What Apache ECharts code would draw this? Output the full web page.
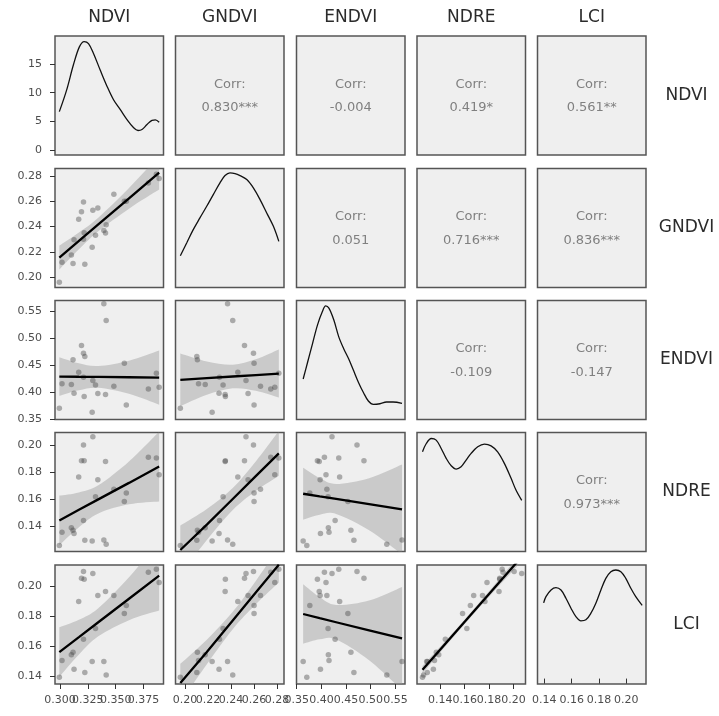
<!DOCTYPE html>
<html>
<head>
<meta charset="utf-8">
<script src="https://cdn.jsdelivr.net/npm/echarts@6/dist/echarts.min.js"></script>
<style>
  html, body { margin: 0; padding: 0; background: #ffffff; }
  #chart { width: 719px; height: 716px; }
</style>
</head>
<body>
<div id="chart"></div>
<script>
// Vegetation indices measured on 24 plots
const variables = ['NDVI', 'GNDVI', 'ENDVI', 'NDRE', 'LCI'];

const ndvi  = [0.2994, 0.3018, 0.3102, 0.3117, 0.3126, 0.3168, 0.3193, 0.3211, 0.3217, 0.3223, 0.3211, 0.3289,
               0.3295, 0.3319, 0.3340, 0.3394, 0.3415, 0.3409, 0.3484, 0.3578, 0.3596, 0.3794, 0.3866, 0.3891];
const gndvi = [0.1960, 0.2118, 0.2176, 0.2108, 0.2296, 0.2459, 0.2517, 0.2595, 0.2351, 0.2103, 0.2300, 0.2236,
               0.2530, 0.2331, 0.2548, 0.2370, 0.2415, 0.2349, 0.2656, 0.2600, 0.2600, 0.2745, 0.2815, 0.2780];
const endvi = [0.3704, 0.4154, 0.4141, 0.4598, 0.3981, 0.4370, 0.4863, 0.4722, 0.3919, 0.4659, 0.4278, 0.3630,
               0.4215, 0.4135, 0.3974, 0.5635, 0.5326, 0.3956, 0.4111, 0.4537, 0.3765, 0.4061, 0.4352, 0.4093];
const ndre  = [0.1255, 0.1353, 0.1388, 0.1368, 0.1344, 0.1766, 0.1887, 0.2005, 0.1887, 0.1294, 0.1442, 0.1289,
               0.2067, 0.1618, 0.1746, 0.1296, 0.1264, 0.1881, 0.1674, 0.1583, 0.1647, 0.1914, 0.1907, 0.1783];
const lci   = [0.1395, 0.1507, 0.1545, 0.1562, 0.1449, 0.1900, 0.2056, 0.2100, 0.2049, 0.1427, 0.1649, 0.1500,
               0.2087, 0.1720, 0.1940, 0.1500, 0.1410, 0.1967, 0.1940, 0.1820, 0.1873, 0.2096, 0.2116, 0.2027];

// Pearson correlations shown in the upper triangle: [row, col, text]
const correlations = [
  [0, 1, '0.830***'], [0, 2, '-0.004'], [0, 3, '0.419*'], [0, 4, '0.561**'],
  [1, 2, '0.051'], [1, 3, '0.716***'], [1, 4, '0.836***'],
  [2, 3, '-0.109'], [2, 4, '-0.147'],
  [3, 4, '0.973***']
];

// Kernel density estimates (diagonal)
const densNdviX  = [0.2994, 0.3060, 0.3120, 0.3174, 0.3217, 0.3256, 0.3301, 0.3361, 0.3421, 0.3481, 0.3542, 0.3602, 0.3662, 0.3701, 0.3737, 0.3782, 0.3827, 0.3857, 0.3891];
const densNdviY  = [6.70, 10.50, 14.83, 18.00, 18.93, 18.58, 16.85, 13.96, 11.19, 8.77, 7.04, 5.31, 3.88, 3.41, 3.58, 4.45, 5.19, 5.26, 4.84];
const densGndviX = [0.1960, 0.2015, 0.2072, 0.2130, 0.2189, 0.2246, 0.2304, 0.2348, 0.2391, 0.2435, 0.2478, 0.2537, 0.2594, 0.2652, 0.2710, 0.2768, 0.2815];
const densGndviY = [4.02, 5.96, 8.00, 9.79, 11.56, 13.35, 15.14, 16.25, 16.67, 16.56, 16.25, 15.64, 14.37, 12.58, 10.55, 8.50, 6.21];
const densEndviX = [0.3630, 0.3720, 0.3820, 0.3920, 0.4020, 0.4086, 0.4152, 0.4252, 0.4352, 0.4452, 0.4552, 0.4652, 0.4752, 0.4852, 0.4952, 0.5052, 0.5186, 0.5320, 0.5452, 0.5635];
const densEndviY = [3.57, 5.27, 7.17, 9.05, 10.42, 11.00, 10.77, 9.56, 7.85, 6.65, 5.62, 4.42, 3.22, 2.19, 1.33, 0.99, 1.05, 1.23, 1.23, 1.10];
const densNdreX  = [0.1255, 0.1286, 0.1327, 0.1367, 0.1408, 0.1449, 0.1490, 0.1531, 0.1571, 0.1612, 0.1653, 0.1707, 0.1762, 0.1816, 0.1870, 0.1925, 0.1980, 0.2020, 0.2067];
const densNdreY  = [11.33, 12.33, 12.93, 12.73, 11.73, 10.54, 9.65, 9.25, 9.53, 10.33, 11.14, 11.93, 12.25, 12.05, 11.33, 9.94, 8.14, 6.74, 5.50];
const densLciX   = [0.1395, 0.1412, 0.1449, 0.1485, 0.1522, 0.1558, 0.1595, 0.1631, 0.1668, 0.1704, 0.1741, 0.1777, 0.1814, 0.1850, 0.1887, 0.1923, 0.1960, 0.1996, 0.2033, 0.2069, 0.2116];
const densLciY   = [9.10, 9.85, 10.65, 10.93, 10.65, 9.66, 8.46, 7.45, 6.94, 7.06, 7.86, 9.06, 10.65, 12.05, 12.85, 13.05, 12.85, 12.05, 10.86, 9.85, 8.80];

// Linear fits with 95% confidence band (lower triangle)
const fitXNdvi  = [0.2994, 0.3170, 0.3344, 0.3620, 0.3891];
const fitXGndvi = [0.1960, 0.2190, 0.2415, 0.2615, 0.2815];
const fitXEndvi = [0.3630, 0.3965, 0.4299, 0.4967, 0.5635];
const fitXNdre  = [0.1255, 0.1433, 0.1611, 0.1839, 0.2067];

const fitGndviOnNdvi = { fit: [0.2155, 0.2287, 0.2417, 0.2624, 0.2827], lo: [0.2060, 0.2220, 0.2363, 0.2542, 0.2693], hi: [0.2250, 0.2354, 0.2471, 0.2706, 0.2961] };
const fitEndviOnNdvi = { fit: [0.4289, 0.4285, 0.4282, 0.4276, 0.4270], lo: [0.3932, 0.4036, 0.4080, 0.3969, 0.3768], hi: [0.4646, 0.4534, 0.4484, 0.4583, 0.4772] };
const fitNdreOnNdvi  = { fit: [0.1442, 0.1521, 0.1599, 0.1722, 0.1844], lo: [0.1257, 0.1391, 0.1494, 0.1562, 0.1583], hi: [0.1627, 0.1651, 0.1704, 0.1882, 0.2105] };
const fitLciOnNdvi   = { fit: [0.1563, 0.1663, 0.1762, 0.1919, 0.2073], lo: [0.1397, 0.1547, 0.1668, 0.1776, 0.1840], hi: [0.1729, 0.1779, 0.1856, 0.2062, 0.2306] };
const fitEndviOnGndvi = { fit: [0.4228, 0.4259, 0.4290, 0.4317, 0.4344], lo: [0.3742, 0.3951, 0.4072, 0.4026, 0.3900], hi: [0.4714, 0.4567, 0.4508, 0.4608, 0.4788] };
const fitNdreOnGndvi  = { fit: [0.1221, 0.1411, 0.1602, 0.1772, 0.1942], lo: [0.1038, 0.1295, 0.1520, 0.1662, 0.1775], hi: [0.1404, 0.1527, 0.1684, 0.1882, 0.2109] };
const fitLciOnGndvi   = { fit: [0.1356, 0.1564, 0.1774, 0.1960, 0.2145], lo: [0.1227, 0.1482, 0.1716, 0.1882, 0.2027], hi: [0.1485, 0.1646, 0.1832, 0.2038, 0.2263] };
const fitNdreOnEndvi  = { fit: [0.1641, 0.1621, 0.1602, 0.1563, 0.1524], lo: [0.1447, 0.1484, 0.1490, 0.1369, 0.1189], hi: [0.1835, 0.1758, 0.1714, 0.1757, 0.1859] };
const fitLciOnEndvi   = { fit: [0.1817, 0.1789, 0.1762, 0.1708, 0.1654], lo: [0.1618, 0.1648, 0.1647, 0.1509, 0.1310], hi: [0.2016, 0.1930, 0.1877, 0.1907, 0.1998] };
const fitLciOnNdre    = { fit: [0.1445, 0.1610, 0.1775, 0.1987, 0.2199], lo: [0.1420, 0.1592, 0.1760, 0.1967, 0.2169], hi: [0.1470, 0.1628, 0.1790, 0.2007, 0.2229] };

// Tick positions and labels
const ticksNdvi  = [0.300, 0.325, 0.350, 0.375];
const labelsNdvi = ['0.300', '0.325', '0.350', '0.375'];
const ticksGndvi  = [0.20, 0.22, 0.24, 0.26, 0.28];
const labelsGndvi = ['0.20', '0.22', '0.24', '0.26', '0.28'];
const ticksEndvi  = [0.35, 0.40, 0.45, 0.50, 0.55];
const labelsEndvi = ['0.35', '0.40', '0.45', '0.50', '0.55'];
const ticksNdre  = [0.14, 0.16, 0.18, 0.20];
const labelsNdre = ['0.14', '0.16', '0.18', '0.20'];
const ticksLci  = [0.14, 0.16, 0.18, 0.20];
const labelsLci = ['0.14', '0.16', '0.18', '0.20'];
const ticksDensity  = [0, 5, 10, 15];
const labelsDensity = ['0', '5', '10', '15'];

// ---- assembly ----
const columns = [ndvi, gndvi, endvi, ndre, lci];
const densities = [[densNdviX, densNdviY], [densGndviX, densGndviY], [densEndviX, densEndviY], [densNdreX, densNdreY], [densLciX, densLciY]];
const tickSets = [[ticksNdvi, labelsNdvi], [ticksGndvi, labelsGndvi], [ticksEndvi, labelsEndvi], [ticksNdre, labelsNdre], [ticksLci, labelsLci]];
const fitXs = [fitXNdvi, fitXGndvi, fitXEndvi, fitXNdre];
const fits = [
  [1, 0, fitGndviOnNdvi], [2, 0, fitEndviOnNdvi], [3, 0, fitNdreOnNdvi], [4, 0, fitLciOnNdvi],
  [2, 1, fitEndviOnGndvi], [3, 1, fitNdreOnGndvi], [4, 1, fitLciOnGndvi],
  [3, 2, fitNdreOnEndvi], [4, 2, fitLciOnEndvi],
  [4, 3, fitLciOnNdre]
];

// panel scales (with ggplot-like padding)
const scaleRange = [[0.2955, 0.3930], [0.1918, 0.2860], [0.3495, 0.5695], [0.1210, 0.2098], [0.1350, 0.2144]];
const densityRange = [[-0.87, 19.90], [-0.825, 17.325], [-0.55, 11.55], [-0.65, 13.65], [-0.65, 13.65]];

// layout
const colLeft = [55, 175.5, 296.5, 417, 537.5];
const rowTop = [36, 168.5, 300.5, 432.5, 565];
const panelW = 108.5, panelH = 119;
const FONT = 'DejaVu Sans';
const TICK_FONT = '11px "' + FONT + '"';

function formatterFor(values, labels) {
  return function (v) {
    const i = values.findIndex(t => Math.abs(t - v) < 1e-9);
    return i >= 0 ? labels[i] : '';
  };
}

// smooth cubic path through a list of pixel points
function curveThrough(p) {
  let s = '';
  for (let i = 0; i < p.length - 1; i++) {
    const p0 = p[Math.max(i - 1, 0)], p1 = p[i], p2 = p[i + 1], p3 = p[Math.min(i + 2, p.length - 1)];
    const c1 = [p1[0] + (p2[0] - p0[0]) / 6, p1[1] + (p2[1] - p0[1]) / 6];
    const c2 = [p2[0] - (p3[0] - p1[0]) / 6, p2[1] - (p3[1] - p1[1]) / 6];
    s += ' C' + c1[0] + ',' + c1[1] + ' ' + c2[0] + ',' + c2[1] + ' ' + p2[0] + ',' + p2[1];
  }
  return s;
}

function bandRenderer(xs, lo, hi) {
  return function (params, api) {
    if (params.dataIndex !== 0) return null;
    const up = xs.map((x, i) => api.coord([x, hi[i]]));
    const dn = xs.map((x, i) => api.coord([x, lo[i]])).reverse();
    const d = 'M' + up[0][0] + ',' + up[0][1] + curveThrough(up) +
              ' L' + dn[0][0] + ',' + dn[0][1] + curveThrough(dn) + ' Z';
    const cs = params.coordSys;
    return {
      type: 'path',
      shape: { pathData: d },
      style: { fill: 'rgba(150,150,150,0.42)' },
      clipPath: { type: 'rect', shape: { x: cs.x, y: cs.y, width: cs.width, height: cs.height } }
    };
  };
}

const grids = [], xAxes = [], yAxes = [], series = [], graphics = [];

for (let r = 0; r < 5; r++) {
  for (let c = 0; c < 5; c++) {
    const gi = r * 5 + c;
    grids.push({
      left: colLeft[c], top: rowTop[r], width: panelW, height: panelH,
      show: true, backgroundColor: '#efefef', borderColor: '#555555', borderWidth: 1.5,
      outerBoundsMode: 'none'
    });

    if (r < c) {
      xAxes.push({ type: 'value', gridIndex: gi, min: 0, max: 1, show: false });
      yAxes.push({ type: 'value', gridIndex: gi, min: 0, max: 1, show: false });
      continue;
    }

    const showX = r === 4;
    const showY = c === 0;
    const xt = tickSets[c];
    const yt = (r === c) ? [ticksDensity, labelsDensity] : tickSets[r];
    const yRange = (r === c) ? densityRange[c] : scaleRange[r];

    xAxes.push({
      type: 'value', gridIndex: gi, position: 'bottom',
      min: scaleRange[c][0], max: scaleRange[c][1],
      axisLine: { show: false }, splitLine: { show: false },
      axisTick: { show: showX, customValues: xt[0], length: 5, lineStyle: { color: '#333333', width: 1 } },
      axisLabel: { show: false }
    });
    yAxes.push({
      type: 'value', gridIndex: gi, position: 'left',
      min: yRange[0], max: yRange[1],
      axisLine: { show: false }, splitLine: { show: false },
      axisTick: { show: showY, customValues: yt[0], length: 5, lineStyle: { color: '#333333', width: 1 } },
      axisLabel: {
        show: showY, customValues: yt[0], formatter: formatterFor(yt[0], yt[1]),
        fontFamily: FONT, fontSize: 11, color: '#4d4d4d', margin: 13,
        hideOverlap: false, showMinLabel: true, showMaxLabel: true
      }
    });

    if (r === c) {
      const d = densities[c];
      series.push({
        type: 'line', xAxisIndex: gi, yAxisIndex: gi,
        data: d[0].map((x, i) => [x, d[1][i]]),
        smooth: 0.35, symbol: 'none', silent: true,
        lineStyle: { color: '#111111', width: 1.3 }
      });
    } else {
      series.push({
        type: 'scatter', xAxisIndex: gi, yAxisIndex: gi,
        data: columns[c].map((x, i) => [x, columns[r][i]]),
        symbolSize: 5.5, silent: true,
        itemStyle: { color: 'rgba(70,70,70,0.52)' }
      });
    }
  }
}

// confidence bands and fitted lines
fits.forEach(([r, c, f]) => {
  const gi = r * 5 + c;
  const xs = fitXs[c];
  series.push({
    type: 'custom', xAxisIndex: gi, yAxisIndex: gi, silent: true,
    data: xs.map((x, i) => [x, f.lo[i], f.hi[i]]),
    encode: { x: 0, y: [1, 2] },
    renderItem: bandRenderer(xs, f.lo, f.hi)
  });
  series.push({
    type: 'line', xAxisIndex: gi, yAxisIndex: gi,
    data: xs.map((x, i) => [x, f.fit[i]]),
    symbol: 'none', silent: true,
    lineStyle: { color: '#000000', width: 2.3 }
  });
});

// strip labels
variables.forEach((name, i) => {
  graphics.push({
    type: 'text', x: colLeft[i] + panelW / 2, y: 18, silent: true,
    style: { text: name, fill: '#2b2b2b', font: '17px "' + FONT + '"', align: 'center', verticalAlign: 'middle' }
  });
  graphics.push({
    type: 'text', x: 686.5, y: rowTop[i] + panelH / 2, silent: true,
    style: { text: name, fill: '#2b2b2b', font: '17px "' + FONT + '"', align: 'center', verticalAlign: 'middle' }
  });
});

// correlation text
correlations.forEach(([r, c, txt]) => {
  const cx = colLeft[c] + panelW / 2;
  const cy = rowTop[r] + panelH / 2;
  graphics.push({
    type: 'text', x: cx, y: cy - 11, silent: true,
    style: { text: 'Corr:', fill: '#808080', font: '13px "' + FONT + '"', align: 'center', verticalAlign: 'middle' }
  });
  graphics.push({
    type: 'text', x: cx, y: cy + 12.5, silent: true,
    style: { text: txt, fill: '#808080', font: '13px "' + FONT + '"', align: 'center', verticalAlign: 'middle' }
  });
});

const chart = echarts.init(document.getElementById('chart'), null, { renderer: 'canvas' });
chart.setOption({
  animation: false,
  backgroundColor: '#ffffff',
  grid: grids,
  xAxis: xAxes,
  yAxis: yAxes,
  series: series
});

// bottom-row tick labels, placed through each column's x scale (all kept, even when crowded)
const labelY = rowTop[4] + panelH + 16.5;
for (let c = 0; c < 5; c++) {
  const gi = 20 + c;
  const [vals, texts] = tickSets[c];
  vals.forEach((v, i) => {
    const px = chart.convertToPixel({ xAxisIndex: gi }, v);
    graphics.push({
      type: 'text', x: px, y: labelY, silent: true,
      style: { text: texts[i], fill: '#4d4d4d', font: TICK_FONT, align: 'center', verticalAlign: 'middle' }
    });
  });
}

chart.setOption({ graphic: graphics });
</script>
</body>
</html>
